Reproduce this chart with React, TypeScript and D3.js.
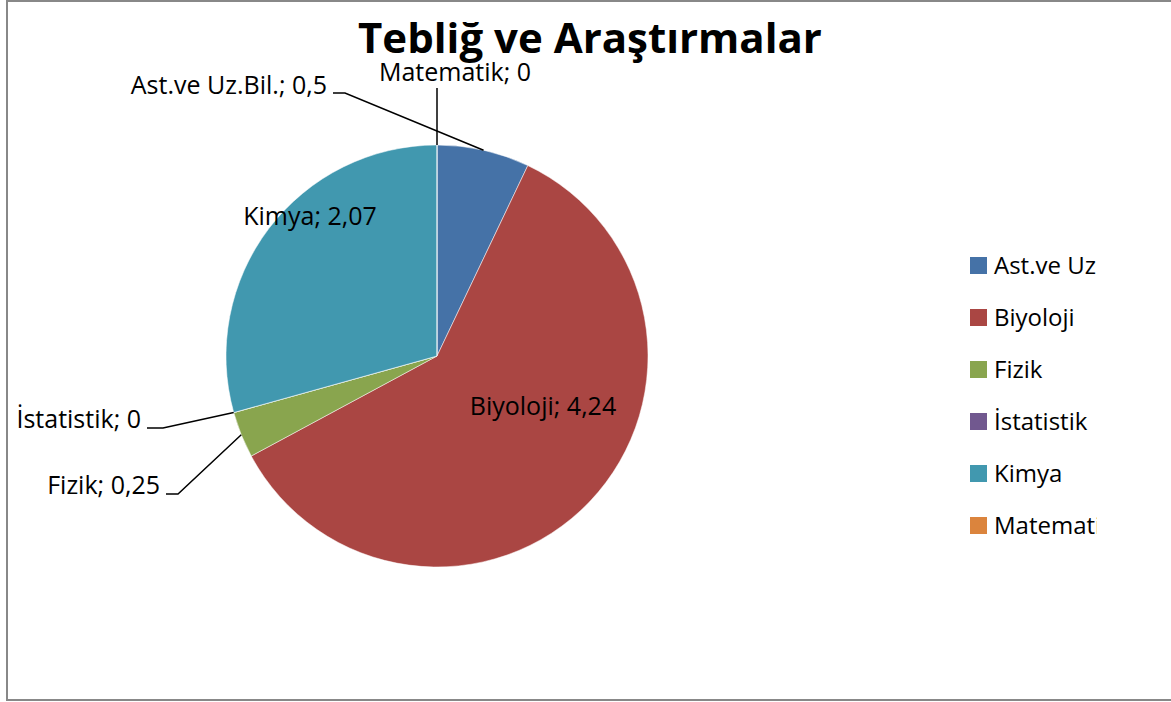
import React from "react";
import * as d3 from "d3";

const categories = ["Ast.ve Uz.Bil.", "Biyoloji", "Fizik", "İstatistik", "Kimya", "Matematik"];
const legendNames = ["Ast.ve Uz.Bil.", "Biyoloji", "Fizik", "İstatistik", "Kimya", "Matematik"];
const values = [0.5, 4.24, 0.25, 0, 2.07, 0];
const valueLabels = ["0,5", "4,24", "0,25", "0", "2,07", "0"];
const colors = ["#4572A7", "#AA4643", "#89A54E", "#71588F", "#4198AF", "#DB843D"];

const W = 1171;
const H = 702;
const cx = 437;
const cy = 356;
const radius = 211;
const font = "'Open Sans', sans-serif";

// where each label sits (layout only); "inside" labels sit in the slice
const labelLayout: Record<string, any> = {
  "Ast.ve Uz.Bil.": { x: 327, y: 94, anchor: "end", elbow: [345, 93] },
  Biyoloji: { x: 543, y: 415, anchor: "middle" },
  Fizik: { x: 160, y: 494, anchor: "end", elbow: [178, 494] },
  "İstatistik": { x: 141, y: 428, anchor: "end", elbow: [163, 428] },
  Kimya: { x: 310, y: 225, anchor: "middle" },
  Matematik: { x: 455, y: 81, anchor: "middle", vertical: true },
};

export default function App() {
  const data = categories.map((c, i) => ({ name: c, value: values[i], label: valueLabels[i], color: colors[i] }));
  const pie = d3.pie<any>().sort(null).value((d) => d.value);
  const arcs = pie(data);
  const arc = d3.arc<any>().innerRadius(0).outerRadius(radius);

  const legendY = d3.scalePoint<string>().domain(legendNames).range([265, 525]);

  return (
    <div style={{ position: "fixed", left: 0, top: 0 }}>
      <svg width={W} height={H} style={{ display: "block", fontFamily: font }}>
        <defs>
          <clipPath id="legendClip">
            <rect x={960} y={230} width={137} height={320} />
          </clipPath>
        </defs>
        <rect x={0} y={0} width={W} height={H} fill="#fff" />
        <rect x={7} y={1} width={W + 20} height={699} fill="none" stroke="#888" strokeWidth={2} />

        <text x={590} y={53} textAnchor="middle" fontSize={42} fontWeight="bold" fill="#000">
          Tebliğ ve Araştırmalar
        </text>

        <g transform={`translate(${cx},${cy})`}>
          {arcs.map((a, i) => (
            <path key={i} d={arc(a) || ""} fill={a.data.color} stroke="#fff" strokeWidth={0.5} />
          ))}
        </g>

        {arcs.map((a, i) => {
          const lay = labelLayout[a.data.name];
          const mid = (a.startAngle + a.endAngle) / 2;
          const px = cx + radius * Math.sin(mid);
          const py = cy - radius * Math.cos(mid);
          let leader = null;
          if (lay.vertical) {
            leader = <path d={`M${px},${py}V${lay.y + 7}`} fill="none" stroke="#000" strokeWidth={1.5} />;
          } else if (lay.elbow) {
            const [ex, ey] = lay.elbow;
            leader = (
              <path
                d={`M${px},${py}L${ex},${ey}H${lay.x + 6}`}
                fill="none"
                stroke="#000"
                strokeWidth={1.5}
              />
            );
          }
          return (
            <g key={"l" + i}>
              {leader}
              <text x={lay.x} y={lay.y} textAnchor={lay.anchor} fontSize={25} fill="#000">
                {a.data.name}; {a.data.label}
              </text>
            </g>
          );
        })}

        <g clipPath="url(#legendClip)">
          {legendNames.map((n, i) => (
            <g key={n} transform={`translate(970,${legendY(n)})`}>
              <rect x={0} y={-8} width={17} height={17} fill={colors[i]} />
              <text x={24} y={9} fontSize={24} fill="#000">
                {n}
              </text>
            </g>
          ))}
        </g>
      </svg>
    </div>
  );
}
